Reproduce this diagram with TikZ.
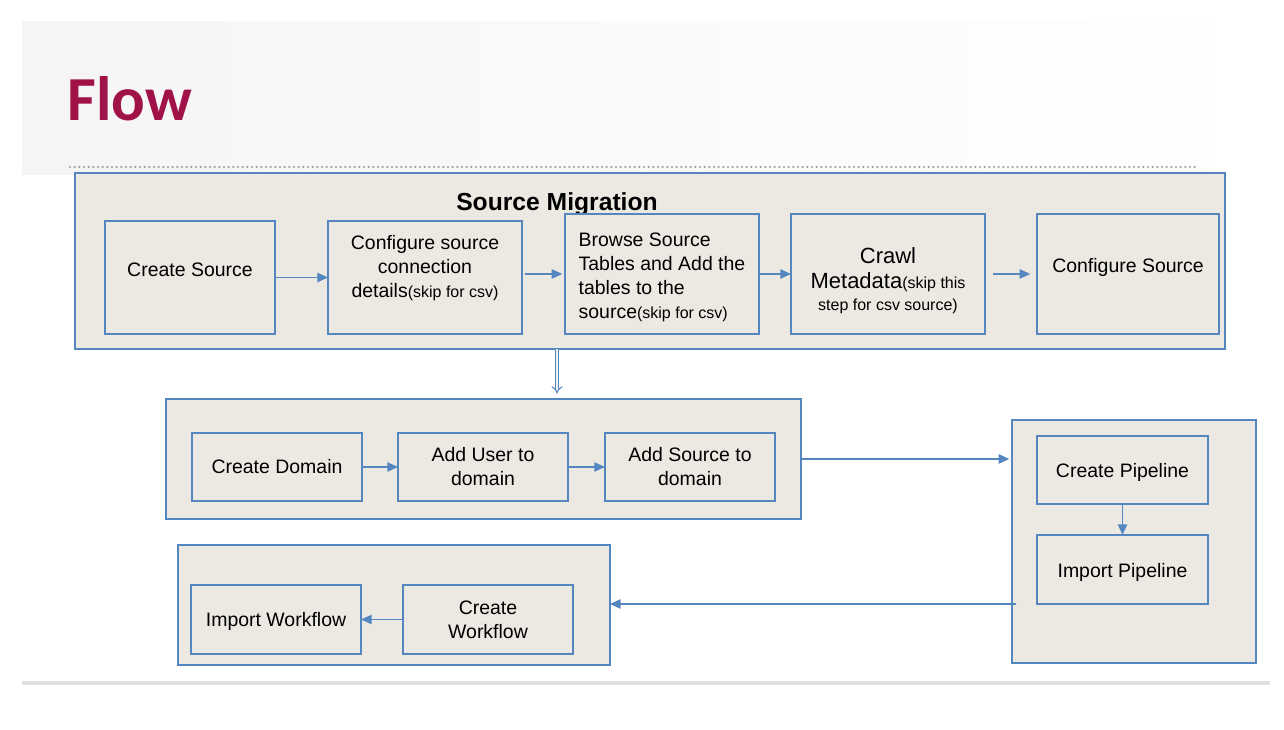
\documentclass[tikz,border=0pt]{standalone}
\usepackage{fontspec}
\setmainfont{Liberation Sans}
\newfontfamily\titlefont{Carlito}
\usetikzlibrary{arrows.meta,shadings}

\definecolor{boxfill}{RGB}{236,233,226}
\definecolor{boxline}{RGB}{84,135,192}
\definecolor{flowred}{RGB}{160,18,72}

\tikzset{
  groupbox/.style={draw=boxline,fill=boxfill,line width=0.9pt,inner sep=0pt,outer sep=0pt},
  stepbox/.style={draw=boxline,fill=boxfill,line width=0.9pt,inner sep=0pt,outer sep=0pt,align=center,font=\fontsize{14.6}{18}\selectfont},
  boxwh/.style 2 args={minimum width=#1*0.75pt,minimum height=#2*0.75pt},
  flowarrow/.style={draw=boxline,line width=1.1pt,-{Triangle[length=8pt,width=7pt]}},
}
\newcommand{\skiptxt}[1]{{\fontsize{12}{18}\selectfont #1}}

\begin{document}
\begin{tikzpicture}[x=0.75pt,y=0.75pt,yscale=-1,xscale=1]
\useasboundingbox (0,0) rectangle (1284,730);

%header band
\shade[left color=gray!8,right color=white] (22,22) rectangle (1270,175);
\node[anchor=west,inner sep=0pt,text=flowred,font=\titlefont\bfseries\fontsize{47}{50}\selectfont] (flowtitle) at (67,99) {Flow};
\draw[gray!75,line width=1.8pt,line cap=round,dash pattern=on 0pt off 3.5pt] (70,167) -- (1195,167);
%footer line
\draw[gray!25,line width=2.5pt] (22,683) -- (1270,683);

%Source Migration group
\node[groupbox,boxwh={1150}{176}] (srcgroup) at (650,261) {};
\node[font=\bfseries\fontsize{18.5}{20}\selectfont,inner sep=0pt] (srctitle) at (557,204) {Source Migration};
\node[stepbox,boxwh={170}{113},text depth=12pt] (csrc) at (190,277.5) {Create Source};
\node[stepbox,boxwh={194}{113},text depth=16.5pt] (cfgsrc) at (425,277.5) {Configure source\\ connection\\ details\skiptxt{(skip for csv)}};
\node[stepbox,boxwh={194}{120},align=left,text height=69pt] (browse) at (662,274) {Browse Source\\ Tables and Add the\\ tables to the\\ source\skiptxt{(skip for csv)}};
\node[stepbox,boxwh={194}{120},font=\fontsize{16.5}{18.5}\selectfont,text height=57pt] (crawl) at (888,274) {Crawl\\ Metadata\skiptxt{(skip this}\\[-2pt] \skiptxt{step for csv source)}};
\node[stepbox,boxwh={182}{120},text depth=13.5pt] (cfgs) at (1128,274) {Configure Source};

\draw[flowarrow] (csrc) -- (cfgsrc);
\draw[flowarrow,shorten <=2pt,shorten >=2pt] (cfgsrc.east |- browse) -- (browse.west);
\draw[flowarrow] (browse) -- (crawl);
\draw[flowarrow,shorten <=6pt,shorten >=5pt] (crawl) -- (cfgs);

%Domain group
\node[groupbox,boxwh={635}{120}] (domgroup) at (483.5,459) {};
\node[stepbox,boxwh={170}{68}] (cdom) at (277,467) {Create Domain};
\node[stepbox,boxwh={170}{68}] (adduser) at (483,467) {Add User to\\ domain};
\node[stepbox,boxwh={170}{68}] (addsrc) at (690,467) {Add Source to\\ domain};

\draw[flowarrow] (cdom) -- (adduser);
\draw[flowarrow] (adduser) -- (addsrc);

%Pipeline group
\node[groupbox,boxwh={244}{243}] (pipgroup) at (1134,541.5) {};
\node[stepbox,boxwh={171}{68},text height=15pt] (cpip) at (1122.5,470) {Create Pipeline};
\node[stepbox,boxwh={171}{69},text height=15pt] (ipip) at (1122.5,569.5) {Import Pipeline};

\draw[flowarrow] (cpip) -- (ipip);

%Workflow group
\node[groupbox,boxwh={432}{120}] (wfgroup) at (394,605) {};
\node[stepbox,boxwh={170}{69},text height=13.7pt] (iwf) at (276,619.5) {Import Workflow};
\node[stepbox,boxwh={170}{69}] (cwf) at (488,619.5) {Create\\ Workflow};

\draw[flowarrow] (cwf) -- (iwf);

%links between groups
\draw[draw=boxline,line width=0.8pt,double=gray!12,double distance=2pt,-{Implies},shorten >=4pt] (srctitle |- srcgroup.south) -- (srctitle |- domgroup.north);
\draw[flowarrow,shorten >=2pt] (domgroup.east) -- (domgroup.east -| pipgroup.west);
\draw[flowarrow,shorten <=-3pt] (ipip.south -| pipgroup.west) -- (ipip.south -| wfgroup.east);
\end{tikzpicture}
\end{document}
